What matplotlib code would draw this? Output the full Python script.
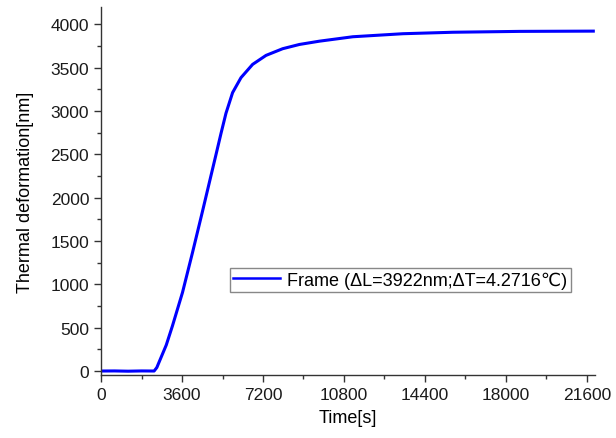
import matplotlib
matplotlib.use("Agg")
import matplotlib.pyplot as plt
from matplotlib.ticker import MultipleLocator

plt.rcParams["font.family"] = ["Liberation Sans", "DejaVu Sans"]

# 读图得到的数据点
time_s = [0, 600, 1200, 1800, 2360, 2480, 2583, 2900, 3176, 3622, 4067, 4512,
          4883, 5108, 5331, 5554, 5848, 6222, 6738, 7335, 8074, 8818, 9709,
          10524, 11192, 13419, 15646, 18616, 21882]
deform_nm = [0, 1, -2, 1, 0, 40, 104, 300, 522, 907, 1368, 1845,
             2250, 2495, 2740, 2975, 3213, 3386, 3539, 3643, 3720, 3769, 3807,
             3835, 3858, 3893, 3910, 3920, 3923]

legend_label = "Frame (\u0394L=3922nm;\u0394T=4.2716\u2103)"

fig = plt.figure(figsize=(6.16, 4.39), dpi=100)
ax = fig.add_axes([0.164, 0.1435, 0.802, 0.838])

ax.plot(time_s, deform_nm, color="#0000ff", linewidth=2.2, label=legend_label)

ax.set_xlim(0, 21960)
ax.set_ylim(-46, 4200)
ax.xaxis.set_major_locator(MultipleLocator(3600))
ax.xaxis.set_minor_locator(MultipleLocator(1800))
ax.yaxis.set_major_locator(MultipleLocator(500))
ax.yaxis.set_minor_locator(MultipleLocator(250))

for side in ("top", "right"):
    ax.spines[side].set_visible(False)
for side in ("left", "bottom"):
    ax.spines[side].set_color("#333333")
    ax.spines[side].set_linewidth(1.0)

ax.tick_params(which="major", direction="out", length=5, width=1, labelsize=12.5, colors="#333333")
ax.tick_params(which="minor", direction="out", length=3, width=1, colors="#333333")
ax.tick_params(labelcolor="#1a1a1a")

ax.set_xlabel("Time[s]", fontsize=13, labelpad=5)
ax.set_ylabel("Thermal deformation[nm]", fontsize=13, labelpad=12)

leg = ax.legend(loc="center", bbox_to_anchor=(0.606, 0.258), fontsize=13,
                fancybox=False, edgecolor="#888888", framealpha=1,
                handlelength=2.6, borderpad=0.2, handletextpad=0.4)
leg.get_frame().set_linewidth(1.0)
for line in leg.get_lines():
    line.set_linewidth(1.8)

fig.savefig("out.png", dpi=100)
